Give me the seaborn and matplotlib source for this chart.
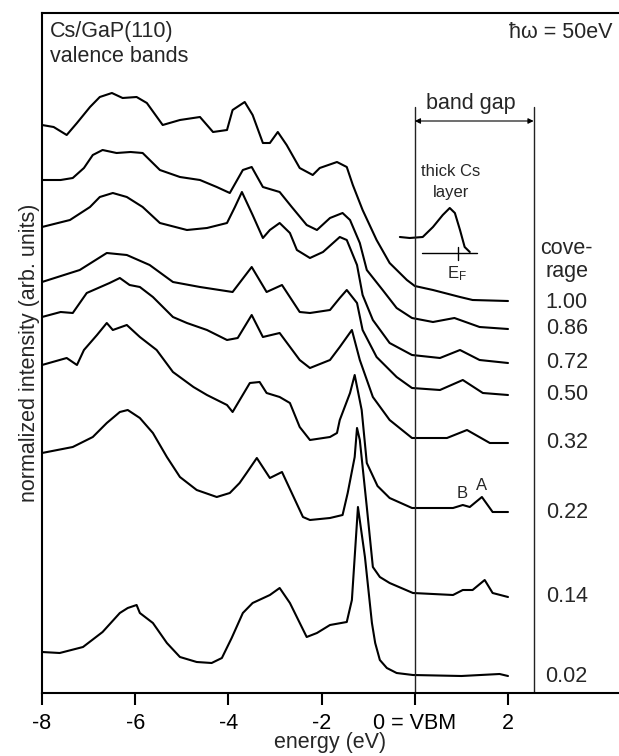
import numpy as np
import pandas as pd
import matplotlib
matplotlib.use("Agg")
import matplotlib.pyplot as plt
import seaborn as sns

# ---------------- data (energy in eV, intensity in arb. units incl. stacking offset) -------------
coverages = ["1.00", "0.86", "0.72", "0.50", "0.32", "0.22", "0.14", "0.02"]

e_100 = [-8.0, -7.75, -7.47, -7.25, -6.97, -6.76, -6.5, -6.27, -5.97, -5.75, -5.41, -5.04, -4.61, -4.33,
         -4.03, -3.91, -3.65, -3.48, -3.26, -3.11, -2.94, -2.75, -2.47, -2.19, -2.04, -1.67, -1.46, -1.33,
         -1.12, -0.82, -0.54, -0.17, 0.0, 0.39, 0.97, 1.24, 2.0]
i_100 = [568, 566, 558, 570, 586, 596, 600, 595, 596, 590, 568, 573, 576, 561, 563, 583, 591, 578, 550,
         550, 561, 548, 525, 518, 525, 531, 526, 508, 483, 453, 430, 413, 407, 403, 396, 393, 392]

e_086 = [-8.0, -7.6, -7.34, -7.1, -6.91, -6.7, -6.4, -6.1, -5.84, -5.47, -5.04, -4.61, -4.25, -3.97,
         -3.69, -3.5, -3.26, -2.9, -2.64, -2.32, -2.1, -1.82, -1.55, -1.39, -1.18, -1.03, -0.69, -0.39,
         -0.06, 0.39, 0.85, 1.39, 2.0]
i_086 = [513, 513, 515, 525, 538, 543, 540, 541, 540, 523, 516, 513, 506, 500, 523, 526, 506, 501, 486,
         468, 463, 475, 480, 473, 450, 423, 403, 385, 375, 371, 375, 366, 364]

e_072 = [-8.0, -7.4, -6.97, -6.76, -6.48, -6.18, -5.84, -5.47, -4.89, -4.46, -4.03, -3.86, -3.71, -3.48,
         -3.26, -3.11, -2.9, -2.68, -2.53, -2.25, -1.97, -1.61, -1.46, -1.24, -1.12, -0.90, -0.54, -0.06,
         0.54, 0.97, 1.39, 2.0]
i_072 = [466, 473, 486, 496, 500, 496, 486, 470, 463, 465, 470, 486, 501, 478, 455, 463, 470, 460, 443,
         435, 441, 456, 453, 428, 398, 373, 350, 338, 335, 343, 333, 330]

e_050 = [-8.0, -7.19, -6.61, -6.18, -5.69, -5.19, -4.61, -3.91, -3.5, -3.18, -2.85, -2.47, -2.25, -1.82,
         -1.61, -1.46, -1.24, -1.12, -0.82, -0.39, -0.06, 0.54, 1.03, 1.46, 2.0]
i_050 = [411, 423, 440, 438, 428, 411, 406, 401, 426, 401, 408, 381, 380, 383, 395, 403, 390, 363, 336,
         316, 305, 303, 313, 300, 298]

e_032 = [-8.0, -7.6, -7.34, -7.04, -6.55, -6.33, -6.12, -5.9, -5.62, -5.19, -4.89, -4.46, -4.03, -3.8,
         -3.5, -3.26, -2.9, -2.47, -2.25, -1.82, -1.61, -1.35, -1.18, -0.90, -0.54, -0.06, 0.69, 1.12,
         1.61, 2.0]
i_032 = [376, 381, 380, 400, 410, 415, 408, 406, 396, 376, 370, 363, 353, 355, 378, 356, 360, 333, 325,
         333, 346, 363, 333, 296, 273, 255, 255, 263, 250, 250]

e_022 = [-8.0, -7.47, -7.25, -7.1, -6.82, -6.61, -6.48, -6.18, -5.9, -5.54, -5.19, -4.75, -4.46, -4.03,
         -3.91, -3.54, -3.33, -3.18, -2.9, -2.68, -2.47, -2.25, -1.82, -1.67, -1.61, -1.39, -1.29, -1.14,
         -1.03, -0.80, -0.54, -0.06, 0.82, 1.03, 1.18, 1.44, 1.67, 2.0]
i_022 = [328, 335, 328, 343, 358, 370, 363, 368, 356, 343, 321, 306, 298, 288, 281, 310, 311, 300, 296,
         290, 266, 253, 256, 260, 273, 300, 318, 283, 230, 207, 195, 185, 185, 188, 186, 196, 181, 181]

e_014 = [-8.0, -7.34, -6.91, -6.61, -6.33, -6.16, -5.9, -5.62, -5.32, -5.04, -4.68, -4.25, -3.97, -3.76,
         -3.61, -3.39, -3.11, -2.85, -2.4, -2.25, -1.82, -1.55, -1.44, -1.29, -1.24, -1.18, -1.03, -0.90,
         -0.75, -0.54, -0.04, 0.82, 1.03, 1.24, 1.5, 1.67, 2.0]
i_014 = [240, 246, 256, 270, 281, 283, 275, 260, 236, 216, 203, 196, 200, 210, 220, 235, 215, 221, 176,
         173, 175, 178, 200, 236, 265, 253, 186, 126, 116, 110, 100, 98, 103, 103, 113, 100, 96]

e_002 = [-8.0, -7.62, -7.12, -6.70, -6.33, -6.16, -5.97, -5.9, -5.62, -5.47, -5.32, -5.04, -4.68, -4.36,
         -4.14, -3.93, -3.69, -3.48, -3.11, -2.9, -2.68, -2.32, -2.1, -1.82, -1.46, -1.35, -1.22, -1.07,
         -0.92, -0.85, -0.75, -0.6, -0.39, -0.04, 1.0, 1.82, 2.0]
i_002 = [41, 40, 46, 61, 80, 85, 88, 80, 70, 60, 50, 36, 31, 30, 35, 55, 80, 90, 98, 105, 90, 56, 60,
         68, 71, 93, 186, 136, 70, 50, 33, 25, 20, 18, 17, 19, 17]

# thick Cs layer inset spectrum
e_thick = [-0.32, -0.11, 0.17, 0.39, 0.6, 0.75, 0.86, 0.97, 1.07, 1.18]
i_thick = [456, 455, 456, 466, 478, 485, 480, 463, 446, 441]

# label heights for the coverage column
label_heights = [391, 364, 330, 298, 251, 181, 96, 16]

xtick_pos = [-8, -6, -4, -2, 0, 2]
xtick_labels = ["-8", "-6", "-4", "-2", "0 = VBM", "2"]
band_gap = 2.55
e_fermi = 0.92

# ---------------- build long table -------------
energies = [e_100, e_086, e_072, e_050, e_032, e_022, e_014, e_002]
intens = [i_100, i_086, i_072, i_050, i_032, i_022, i_014, i_002]
frames = []
for cov, e, i in zip(coverages, energies, intens):
    frames.append(pd.DataFrame({"energy": e, "intensity": i, "coverage": cov}))
df = pd.concat(frames, ignore_index=True)

# ---------------- plot -------------
sns.set_theme(style="ticks")
plt.rcParams["font.family"] = ["Liberation Sans", "DejaVu Sans"]
plt.rcParams["mathtext.fontset"] = "custom"
plt.rcParams["mathtext.rm"] = "Liberation Sans"
plt.rcParams["mathtext.it"] = "Liberation Sans"
plt.rcParams["lines.solid_joinstyle"] = "round"

FS = 15.5
fig = plt.figure(figsize=(6.19, 7.56), dpi=100)
ax = fig.add_axes([42 / 619, 63 / 756, 577 / 619, 680 / 756])

sns.lineplot(data=df, x="energy", y="intensity", units="coverage", estimator=None,
             color="black", lw=1.5, ax=ax, legend=False)
sns.lineplot(x=e_thick, y=i_thick, color="black", lw=1.5, ax=ax, legend=False)

ax.set_xlim(-8, -8 + 577 / 46.6)
ax.set_ylim(0, 680)

# band gap markers
ax.plot([0, 0], [0, 586], color="#222222", lw=1.0)
ax.plot([band_gap, band_gap], [0, 586], color="#222222", lw=1.0)
ax.annotate("", xy=(0, 572), xytext=(band_gap, 572),
            arrowprops=dict(arrowstyle="<|-|>", lw=0.8, color="black",
                            mutation_scale=8, shrinkA=0, shrinkB=0))
ax.text(band_gap / 2 - 0.07, 590, "band gap", ha="center", va="center", fontsize=FS)

# thick Cs layer annotation
ax.text(0.77, 521, "thick Cs", ha="center", va="center", fontsize=12)
ax.text(0.77, 500, "layer", ha="center", va="center", fontsize=12)
ax.plot([0.15, 1.33], [440, 440], color="black", lw=1.0)
ax.plot([e_fermi, e_fermi], [433, 446], color="black", lw=1.0)
ax.text(0.9, 419, r"E$_{\mathrm{F}}$", ha="center", va="center", fontsize=12)

# peak labels
ax.text(1.01, 199, "B", ha="center", va="center", fontsize=12)
ax.text(1.44, 207, "A", ha="center", va="center", fontsize=12)

# coverage column
ax.text(3.26, 445, "cove-", ha="center", va="center", fontsize=FS)
ax.text(3.26, 421, "rage", ha="center", va="center", fontsize=FS)
for lab, h in zip(coverages, label_heights):
    ax.text(3.26, h, lab, ha="center", va="center", fontsize=FS)

# titles
ax.text(-7.83, 661, "Cs/GaP(110)", ha="left", va="center", fontsize=FS)
ax.text(-7.83, 636, "valence bands", ha="left", va="center", fontsize=FS)
ax.text(4.25, 661, "ħω = 50eV", ha="right", va="center", fontsize=FS)

# axes styling
ax.set_xticks(xtick_pos)
ax.set_xticklabels(xtick_labels, fontsize=FS)
ax.set_yticks([])
ax.tick_params(axis="x", direction="out", length=8.5, width=1.5, pad=6, colors="black")
for s in ["left", "bottom", "top"]:
    ax.spines[s].set_linewidth(1.5)
    ax.spines[s].set_color("black")
ax.spines["right"].set_visible(False)

ax.set_xlabel("energy (eV)", fontsize=FS)
ax.set_ylabel("normalized intensity (arb. units)", fontsize=FS)
ax.xaxis.set_label_coords(0.5, -0.058)
ax.yaxis.set_label_coords(-0.004, 0.5)

fig.savefig("out.png", dpi=100)
